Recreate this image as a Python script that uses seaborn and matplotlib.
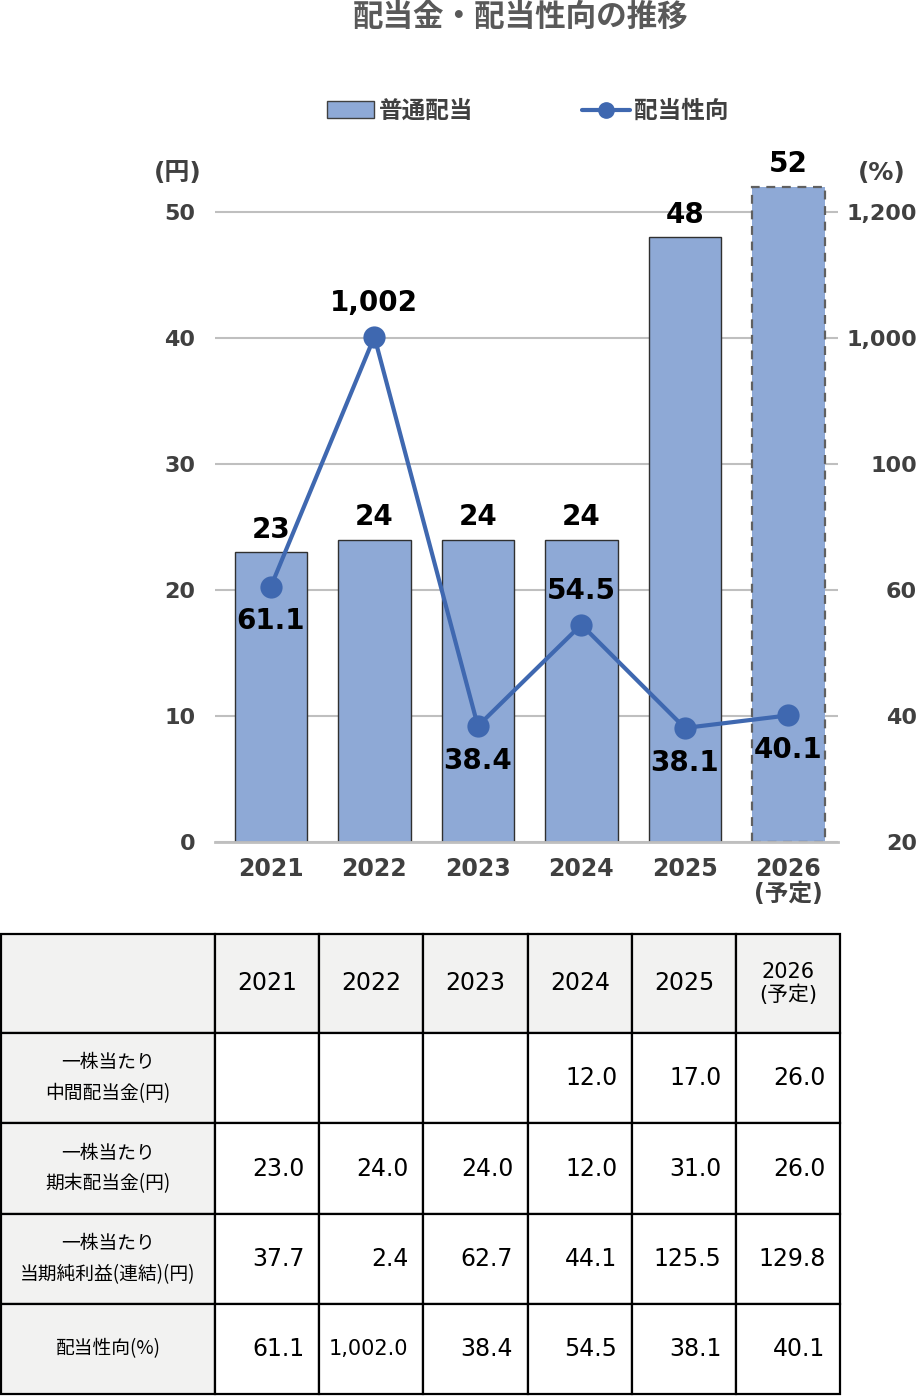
import numpy as np
import matplotlib
matplotlib.use("Agg")
import matplotlib.pyplot as plt
import seaborn as sns
from matplotlib.patches import Patch
from matplotlib.lines import Line2D

# data
years = ["2021", "2022", "2023", "2024", "2025", "2026"]
year_labels = ["2021", "2022", "2023", "2024", "2025", "2026\n(予定)"]
dividend = [23, 24, 24, 24, 48, 52]
payout = [61.1, 1002.0, 38.4, 54.5, 38.1, 40.1]
payout_label_pos = ["below", "above", "below", "above", "below", "below"]

interim = [None, None, None, 12.0, 17.0, 26.0]
year_end = [23.0, 24.0, 24.0, 12.0, 31.0, 26.0]
eps = [37.7, 2.4, 62.7, 44.1, 125.5, 129.8]
row_names = ["一株当たり\n中間配当金(円)", "一株当たり\n期末配当金(円)",
             "一株当たり\n当期純利益(連結)(円)", "配当性向(%)"]

# right axis is broken: 20,40,60,100,1000,1200 evenly spaced
right_ticks = [20, 40, 60, 100, 1000, 1200]
right_pos = [0, 10, 20, 30, 40, 50]

bar_color = "#8EA9D6"
line_color = "#3F68B0"
text_grey = "#404040"
grid_grey = "#BFBFBF"

sns.set_style("white")
plt.rcParams['font.family'] = ['DejaVu Sans', 'Noto Sans CJK JP']

fig = plt.figure(figsize=(9.21, 13.96), dpi=100)
ax = fig.add_axes([215 / 921, 1 - 842 / 1396, 623 / 921, (842 - 180.5) / 1396])

# bars
sns.barplot(x=years, y=dividend, color=bar_color, edgecolor="#303030",
            linewidth=1, width=0.7, saturation=1, ax=ax)
last = ax.patches[-1]
last.set_linestyle((0, (4, 3)))
last.set_edgecolor("#606060")
last.set_linewidth(1.6)

ax.set_ylim(0, 52.5)
ax.set_xlim(-0.54, 5.48)
ax.set_yticks([0, 10, 20, 30, 40, 50])
ax.grid(axis="y", color=grid_grey, linewidth=1.5)
ax.set_axisbelow(True)
for s in ["top", "left", "right"]:
    ax.spines[s].set_visible(False)
ax.spines["bottom"].set_color(grid_grey)
ax.spines["bottom"].set_linewidth(2)
ax.tick_params(axis="both", length=0, colors=text_grey, labelsize=16)
ax.tick_params(axis="y", pad=14)
ax.tick_params(axis="x", pad=11, labelsize=17)
ax.set_xticks(range(len(years)))
ax.set_xticklabels(year_labels, fontweight="bold", linespacing=1.05)
for t in ax.get_yticklabels():
    t.set_fontweight("bold")
ax.set_xlabel("")
ax.set_ylabel("")

ax.bar_label(ax.containers[0], labels=[str(v) for v in dividend], padding=6,
             fontsize=20, fontweight="bold", color="black")

# payout line on right axis (piecewise scale, extended linearly past 1,200)
ext_ticks = right_ticks + [1400]
ext_pos = right_pos + [60]
def fwd(v):
    return np.interp(v, ext_ticks, ext_pos)
def inv(v):
    return np.interp(v, ext_pos, ext_ticks)

ax2 = ax.twinx()
ax2.set_yscale("function", functions=(fwd, inv))
sns.lineplot(x=years, y=payout, ax=ax2, color=line_color, linewidth=3,
             marker="o", markersize=16, markeredgewidth=0, sort=False)
ax2.set_ylim(inv(0), inv(52.5))
ax2.set_yticks(right_ticks)
ax2.set_yticklabels([f"{v:,}" for v in right_ticks], fontweight="bold", ha="right")
ax2.tick_params(axis="y", length=0, colors=text_grey, labelsize=16, pad=57)
for s in ["top", "left", "right", "bottom"]:
    ax2.spines[s].set_visible(False)
ax2.set_ylabel("")

for i, (v, pos) in enumerate(zip(payout, payout_label_pos)):
    txt = f"{v:,.0f}" if v >= 1000 else f"{v}"
    dy = 24 if pos == "above" else -25
    ax2.annotate(txt, (years[i], v), xytext=(0, dy), textcoords="offset points",
                 ha="center", va="center", fontsize=20, fontweight="bold", color="black")

# units
fig.text(178 / 921, 1 - 173 / 1396, "(円)", ha="center", va="center",
         fontsize=18, fontweight="bold", color=text_grey)
fig.text(882 / 921, 1 - 173 / 1396, "(%)", ha="center", va="center",
         fontsize=18, fontweight="bold", color=text_grey)

# title
fig.text(521 / 921, 1 - 17 / 1396, "配当金・配当性向の推移", ha="center", va="center",
         fontsize=22, fontweight="bold", color="#595959", family="Noto Sans CJK JP")

# legend
handles = [Patch(facecolor=bar_color, edgecolor="#404040", linewidth=1),
           Line2D([0], [0], color=line_color, linewidth=3, marker="o", markersize=11)]
fig.legend(handles, ["普通配当", "配当性向"], loc="center", ncol=2,
           bbox_to_anchor=(528 / 921, 1 - 111 / 1396), frameon=False,
           prop={"family": "Noto Sans CJK JP", "weight": "bold", "size": 17},
           labelcolor=text_grey, handlelength=2.0, handletextpad=0.2,
           columnspacing=4.6)

# table
def fmt(v):
    if v is None:
        return ""
    return f"{v:,.1f}"

cell_text = [[""] + ["2021", "2022", "2023", "2024", "2025", "2026\n(予定)"]]
for name, vals in zip(row_names, [interim, year_end, eps, payout]):
    cell_text.append([name] + [fmt(v) for v in vals])

tax = fig.add_axes([1 / 921, 2 / 1396, 839 / 921, 460 / 1396])
tax.axis("off")
col_w = [214, 104, 104, 104.5, 104, 104, 104]
row_h = [99, 90, 91, 90, 90]
tbl = tax.table(cellText=cell_text, cellLoc="right",
                colWidths=[w / sum(col_w) for w in col_w], bbox=[0, 0, 1, 1])
tbl.auto_set_font_size(False)
for (r, c), cell in tbl.get_celld().items():
    cell.set_height(row_h[r] / sum(row_h))
    cell.set_edgecolor("black")
    cell.set_linewidth(1.6)
    t = cell.get_text()
    t.set_color("black")
    if r == 0 or c == 0:
        cell.set_facecolor("#F2F2F1")
        t.set_ha("center")
    else:
        cell.set_facecolor("white")
        cell.PAD = 0.14
    if c == 0:
        t.set_fontsize(13.5)
        t.set_linespacing(1.6)
        t.set_family("Noto Sans CJK JP")
    elif r == 0:
        t.set_fontsize(15 if c == 6 else 17)
        t.set_linespacing(1.2)
    else:
        t.set_fontsize(15 if cell_text[r][c].startswith("1,") else 17)

fig.savefig("out.png", dpi=100)
